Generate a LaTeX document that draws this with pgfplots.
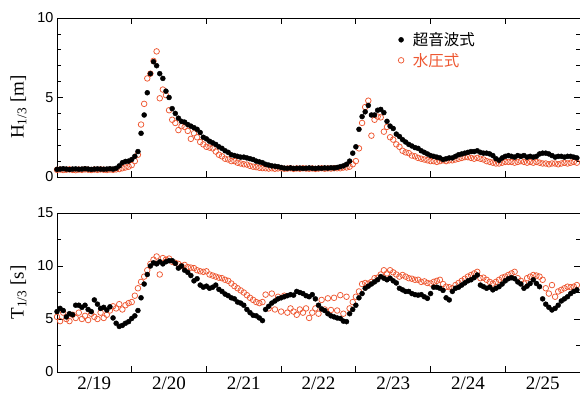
\documentclass[border=0pt]{standalone}
\usepackage{fontspec}
\setmainfont{Liberation Serif}
\setsansfont{Liberation Sans}
\newfontfamily\cjk{Noto Sans CJK JP}
\usepackage{pgfplots}
\usepackage{pgfplotstable}
\pgfplotsset{compat=1.18}
\definecolor{wp}{RGB}{238,88,50}

\pgfplotstableread{
h us wp
0 0.48 0.45
1 0.50 0.47
2 0.52 0.44
3 0.50 0.46
4 0.47 0.48
5 0.50 0.45
6 0.51 0.43
7 0.49 0.47
8 0.50 0.45
9 0.52 0.48
10 0.50 0.46
11 0.48 0.44
12 0.50 0.47
13 0.51 0.45
14 0.50 0.48
15 0.49 0.46
16 0.50 0.44
17 0.52 0.47
18 0.50 0.45
19 0.55 0.48
20 0.70 0.50
21 0.90 0.55
22 0.98 0.60
23 1.00 0.65
24 1.10 0.75
25 1.30 1.00
26 1.60 1.40
27 2.75 3.30
28 3.90 4.60
29 5.30 6.20
30 6.50 6.50
31 7.25 7.30
32 7.00 7.90
33 6.50 4.95
34 6.20 5.50
35 5.40 5.15
36 5.00 4.20
37 4.30 3.60
38 4.00 3.40
39 3.70 2.95
40 3.50 3.20
41 3.45 3.15
42 3.30 2.90
43 3.20 2.40
44 3.10 2.75
45 3.00 2.50
46 2.80 2.20
47 2.50 2.05
48 2.40 1.90
49 2.25 1.85
50 2.15 1.80
51 2.05 1.60
52 1.90 1.40
53 1.80 1.30
54 1.65 1.15
55 1.55 1.10
56 1.40 1.00
57 1.35 1.00
58 1.30 0.90
59 1.25 0.85
60 1.25 0.80
61 1.20 0.78
62 1.15 0.70
63 1.10 0.65
64 1.00 0.62
65 0.95 0.58
66 0.90 0.56
67 0.80 0.55
68 0.75 0.53
69 0.70 0.55
70 0.68 0.52
71 0.65 0.54
72 0.60 0.55
73 0.56 0.52
74 0.55 0.53
75 0.57 0.55
76 0.54 0.51
77 0.55 0.54
78 0.56 0.52
79 0.54 0.55
80 0.55 0.53
81 0.57 0.52
82 0.55 0.54
83 0.54 0.51
84 0.56 0.53
85 0.55 0.55
86 0.57 0.52
87 0.56 0.54
88 0.58 0.53
89 0.57 0.55
90 0.60 0.55
91 0.65 0.55
92 0.70 0.60
93 0.80 0.60
94 1.00 0.65
95 1.50 0.80
96 1.90 1.00
97 3.00 1.80
98 3.80 3.40
99 4.10 4.40
100 4.50 4.80
101 3.90 2.60
102 3.90 3.60
103 4.20 3.80
104 4.25 3.75
105 4.05 2.85
106 3.50 3.15
107 3.20 2.50
108 3.05 2.35
109 2.70 2.05
110 2.55 1.90
111 2.35 1.65
112 2.20 1.55
113 2.05 1.50
114 1.95 1.35
115 1.85 1.30
116 1.80 1.20
117 1.65 1.15
118 1.55 1.10
119 1.45 1.05
120 1.35 1.00
121 1.30 1.00
122 1.25 0.95
123 1.20 1.00
124 1.10 1.05
125 1.15 1.00
126 1.20 1.05
127 1.20 1.05
128 1.30 1.10
129 1.40 1.15
130 1.45 1.20
131 1.50 1.25
132 1.55 1.25
133 1.60 1.20
134 1.60 1.15
135 1.65 1.20
136 1.55 1.15
137 1.50 1.10
138 1.50 1.00
139 1.45 0.95
140 1.35 0.90
141 1.15 0.85
142 1.05 0.85
143 1.20 0.90
144 1.30 0.95
145 1.35 0.95
146 1.30 0.95
147 1.25 0.90
148 1.35 0.95
149 1.30 1.00
150 1.35 0.95
151 1.25 0.90
152 1.30 0.95
153 1.25 0.90
154 1.30 0.95
155 1.45 0.90
156 1.50 0.85
157 1.50 0.85
158 1.45 0.80
159 1.35 0.85
160 1.25 0.85
161 1.30 0.80
162 1.30 0.85
163 1.25 0.90
164 1.30 0.85
165 1.30 0.90
166 1.25 0.95
167 1.20 0.90
}\Hdata

\pgfplotstableread{
h us wp
0 5.70 5.20
1 6.00 4.80
2 5.80 5.60
3 5.20 5.00
4 5.50 4.80
5 5.40 5.40
6 6.30 5.10
7 6.30 5.60
8 6.10 5.00
9 6.30 5.30
10 5.90 4.90
11 5.70 5.50
12 6.80 5.20
13 6.40 5.00
14 6.00 5.60
15 6.10 5.10
16 5.85 5.40
17 6.15 5.80
18 5.10 6.20
19 4.60 6.00
20 4.30 6.40
21 4.40 5.90
22 4.60 6.30
23 4.75 6.50
24 5.05 6.60
25 5.30 7.20
26 5.80 7.90
27 7.00 8.50
28 8.30 9.00
29 9.20 9.60
30 10.00 10.20
31 10.30 10.60
32 10.20 10.90
33 10.40 9.20
34 10.20 10.75
35 10.40 10.60
36 10.50 10.70
37 10.50 10.40
38 10.25 10.30
39 9.80 10.20
40 10.00 10.00
41 9.60 10.10
42 9.40 9.90
43 9.10 9.85
44 8.60 9.80
45 8.80 9.60
46 8.20 9.50
47 8.00 9.45
48 8.10 9.50
49 7.90 9.20
50 8.00 9.10
51 8.20 9.00
52 7.80 8.90
53 7.60 8.85
54 7.35 8.70
55 7.20 8.60
56 7.00 8.35
57 6.90 8.10
58 6.60 7.90
59 6.50 7.70
60 6.30 7.50
61 5.90 7.25
62 5.60 7.00
63 5.35 6.80
64 5.30 6.60
65 5.10 6.50
66 4.85 6.60
67 5.90 7.30
68 6.20 6.00
69 6.50 7.40
70 6.70 5.90
71 6.90 7.10
72 7.00 5.70
73 7.10 7.20
74 7.20 5.60
75 7.30 6.00
76 7.25 5.70
77 7.60 5.40
78 7.50 5.90
79 7.40 5.60
80 7.20 6.00
81 7.10 5.10
82 7.30 5.60
83 6.90 6.00
84 6.30 5.50
85 5.95 6.80
86 5.80 5.90
87 5.50 6.95
88 5.30 5.85
89 5.20 7.00
90 5.10 5.80
91 5.05 7.25
92 4.80 5.50
93 4.75 7.10
94 5.50 6.00
95 5.90 6.60
96 6.30 7.10
97 7.00 7.60
98 7.40 8.30
99 7.90 8.40
100 8.10 8.35
101 8.30 8.50
102 8.50 8.85
103 8.70 8.90
104 9.00 9.20
105 8.85 9.60
106 8.70 9.30
107 8.85 9.60
108 8.60 9.40
109 8.40 9.20
110 7.90 9.00
111 7.75 9.15
112 7.60 9.00
113 7.60 8.85
114 7.40 8.80
115 7.30 8.70
116 7.25 8.70
117 7.30 8.50
118 7.10 8.55
119 6.95 8.40
120 7.40 8.35
121 8.00 8.50
122 8.00 8.60
123 7.90 8.70
124 7.70 8.30
125 7.00 8.05
126 6.80 8.00
127 7.60 7.90
128 7.90 8.20
129 8.00 8.40
130 8.20 8.60
131 8.40 8.80
132 8.60 9.00
133 8.70 9.15
134 8.90 9.30
135 9.15 9.45
136 8.20 8.85
137 8.05 8.90
138 7.90 8.70
139 8.00 8.50
140 7.75 8.35
141 7.90 8.50
142 8.05 8.70
143 8.30 8.90
144 8.60 9.00
145 8.80 9.15
146 8.90 9.30
147 8.80 9.45
148 8.50 8.85
149 8.30 8.60
150 7.90 8.35
151 8.10 8.85
152 8.35 9.00
153 8.70 9.15
154 8.35 9.10
155 8.05 9.00
156 6.90 8.70
157 6.40 7.90
158 6.10 7.40
159 5.85 8.20
160 6.00 7.10
161 6.30 7.60
162 6.70 7.75
163 6.90 7.90
164 7.10 8.05
165 7.40 8.00
166 7.60 8.05
167 7.75 8.20
}\Tdata

\pgfplotsset{
  common/.style={
    scale only axis, width=523pt, height=159pt,
    xmin=0, xmax=7,
    xtick={1,2,3,4,5,6}, xticklabels={},
    axis line style={line width=1pt},
    major tick style={line width=0.8pt, black},
    minor tick style={line width=0.8pt, black},
    major tick length=6pt, minor tick length=4pt,
    tick align=inside,
    /pgf/number format/assume math mode=true,
    yticklabel style={font=\sffamily\fontsize{14.4}{14.4}\selectfont},
    ylabel style={font=\fontsize{19}{19}\selectfont, anchor=center},
    clip=false,
  },
  usmark/.style={only marks, mark=*, mark size=2.5pt, black},
  wpmark/.style={only marks, mark=o, mark size=2.8pt, color=wp, mark options={line width=0.75pt}},
}

\begin{document}
\begin{tikzpicture}
\useasboundingbox (0pt,0pt) rectangle (580pt,392pt);
\begin{axis}[common, at={(57pt,215pt)}, anchor=south west,
  ymin=0, ymax=10, ytick={0,5,10}, minor y tick num=4,
  ylabel={H\textsubscript{1/3} [m]},
  ylabel style={at={(axis description cs:-0.0736,0.44)}},
  reverse legend,
  legend style={draw=none, fill=none, at={(0.6465,0.935)}, anchor=north west,
    font=\cjk\fontsize{15.5}{15.5}\selectfont, row sep=2pt},
  legend cell align=left]
\addplot[wpmark] table[x expr=\thisrow{h}/24, y=wp] {\Hdata};
\addlegendentry{\hspace*{7pt}\textcolor{wp}{水圧式}}
\addplot[usmark] table[x expr=\thisrow{h}/24, y=us] {\Hdata};
\addlegendentry{\hspace*{7pt}超音波式}
\end{axis}
\begin{axis}[common, at={(57pt,20pt)}, anchor=south west,
  ymin=0, ymax=15, ytick={0,5,10,15}, minor y tick num=1,
  ylabel={T\textsubscript{1/3} [s]},
  ylabel style={at={(axis description cs:-0.0736,0.5)}},
  extra x ticks={0.5,1.5,2.5,3.5,4.5,5.5,6.5},
  extra x tick labels={2/19,2/20,2/21,2/22,2/23,2/24,2/25},
  extra x tick style={major tick length=0pt, tick style={draw=none},
    xticklabel style={font=\fontsize{19}{19}\selectfont, anchor=base, inner sep=0pt, yshift=-17pt}}]
\addplot[wpmark] table[x expr=\thisrow{h}/24, y=wp] {\Tdata};
\addplot[usmark] table[x expr=\thisrow{h}/24, y=us] {\Tdata};
\end{axis}
\end{tikzpicture}
\end{document}
